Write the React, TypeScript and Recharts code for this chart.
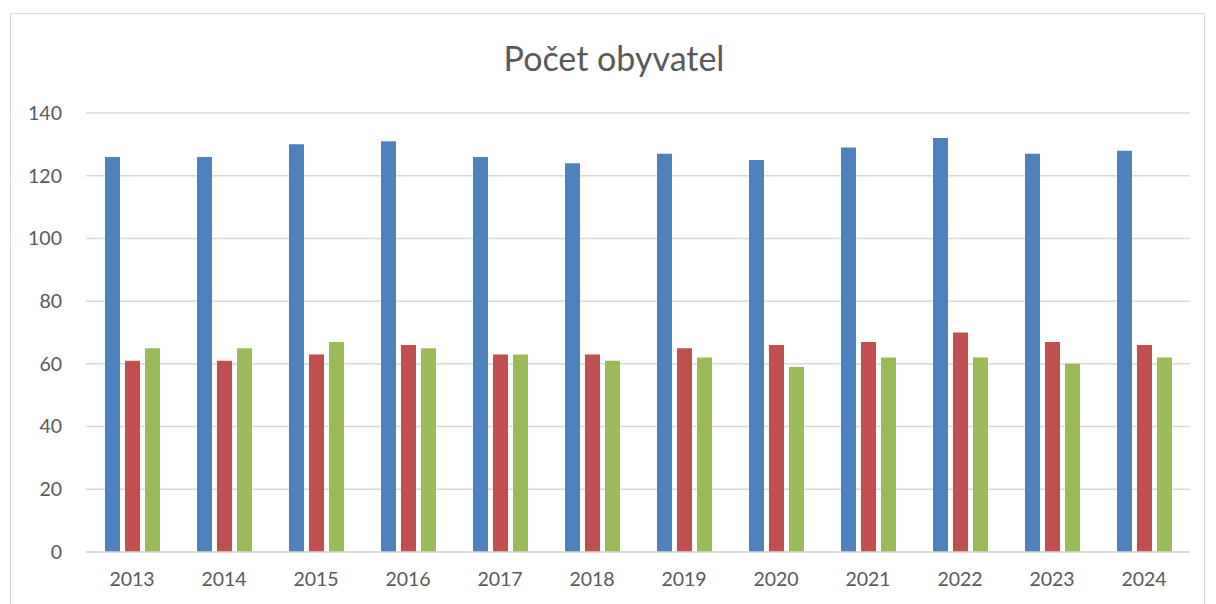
import { BarChart, Bar, XAxis, YAxis, CartesianGrid } from "recharts";

const years = ["2013", "2014", "2015", "2016", "2017", "2018", "2019", "2020", "2021", "2022", "2023", "2024"];
const total = [126, 126, 130, 131, 126, 124, 127, 125, 129, 132, 127, 128];
const men = [61, 61, 63, 66, 63, 63, 65, 66, 67, 70, 67, 66];
const women = [65, 65, 67, 65, 63, 61, 62, 59, 62, 62, 60, 62];
const yTicks = [0, 20, 40, 60, 80, 100, 120, 140];

const data = years.map((y, i) => ({ year: y, total: total[i], men: men[i], women: women[i] }));

const font = "Lato, 'Open Sans', sans-serif";
const tickStyle = { fontSize: 19.5, fill: "#595959", fontFamily: font };

export default function App() {
  return (
    <div style={{ position: "absolute", left: 0, top: 0, width: 1216, height: 604, background: "#fff", overflow: "hidden" }}>
      {/* outer frame like the spreadsheet chart area */}
      <div
        style={{
          position: "absolute",
          left: 10,
          top: 13,
          width: 1195,
          height: 620,
          border: "1.5px solid #d9d9d9",
          boxSizing: "border-box",
        }}
      />
      <div
        style={{
          position: "absolute",
          left: 0,
          top: 37,
          width: 1228,
          textAlign: "center",
          fontFamily: font,
          fontSize: 34,
          color: "#595959",
        }}
      >
        Počet obyvatel
      </div>
      <div style={{ position: "absolute", left: 0, top: 0 }}>
        <BarChart
          width={1216}
          height={604}
          data={data}
          margin={{ top: 113, right: 26, left: 0, bottom: 0 }}
          barGap={5}
        >
          <CartesianGrid vertical={false} stroke="#d9d9d9" strokeWidth={1.5} />
          <XAxis
            dataKey="year"
            tick={tickStyle}
            tickLine={false}
            axisLine={{ stroke: "#d9d9d9", strokeWidth: 1.5 }}
            tickSize={0}
            tickMargin={20}
            height={52}
          />
          <YAxis
            domain={[0, 140]}
            ticks={yTicks}
            tick={tickStyle}
            tickLine={false}
            axisLine={false}
            tickSize={0}
            tickMargin={24}
            width={86}
          />
          <Bar dataKey="total" fill="#4f81bd" barSize={15} isAnimationActive={false} />
          <Bar dataKey="men" fill="#c0504d" barSize={15} isAnimationActive={false} />
          <Bar dataKey="women" fill="#9bbb59" barSize={15} isAnimationActive={false} />
        </BarChart>
      </div>
    </div>
  );
}
